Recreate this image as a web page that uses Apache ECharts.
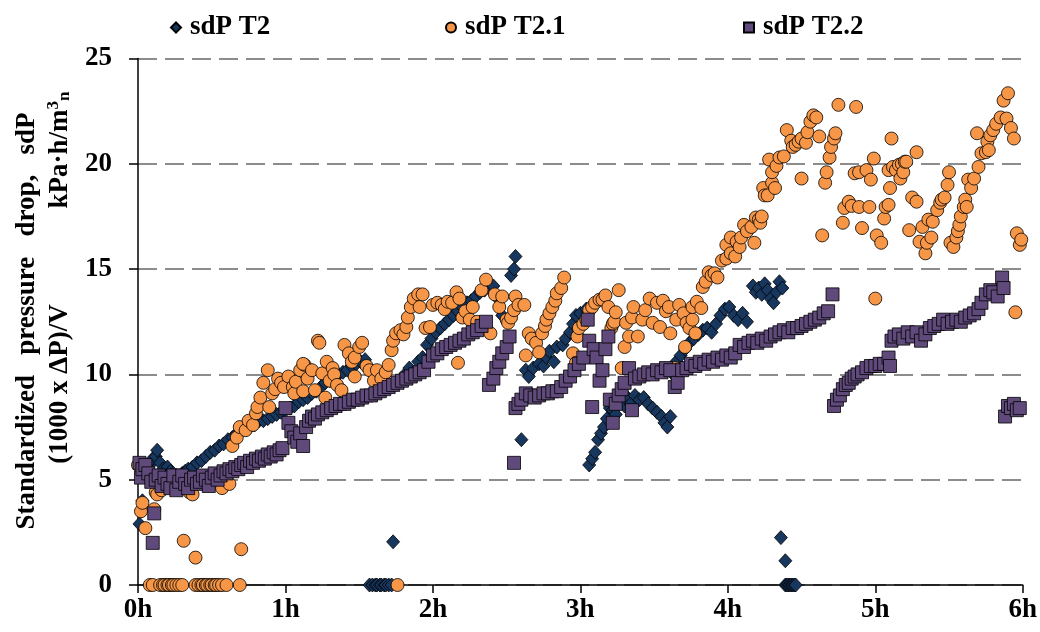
<!DOCTYPE html>
<html><head><meta charset="utf-8">
<script src="https://cdn.jsdelivr.net/npm/echarts@6/dist/echarts.min.js"></script>
<style>html,body{margin:0;padding:0;background:#fff}#c{width:1040px;height:632px}</style>
</head><body><div id="c"></div>
<script>
const seriesNames = ['sdP T2', 'sdP T2.1', 'sdP T2.2'];
const xTickLabels = ['0h', '1h', '2h', '3h', '4h', '5h', '6h'];
const yTickValues = [0, 5, 10, 15, 20, 25];
const yTitleLine1 = 'Standardized   pressure   drop,   sdP';
const yTitleLine2a = '(1000 x ΔP)/V';
const yTitleLine2b = 'kPa·h/m';

// [time in hours, sdP]
const sdpT2 = [
[0.01,2.9],[0.03,4.0],[0.06,5.3],[0.08,5.7],[0.1,6.0],[0.12,6.1],[0.13,6.4],[0.15,5.8],[0.17,5.5],[0.2,5.6],[0.22,5.4],[0.24,5.3],[0.26,5.2],[0.28,5.1],[0.3,5.3],
[0.32,5.4],[0.34,5.5],[0.37,5.6],[0.4,5.8],[0.43,5.9],[0.46,6.1],[0.49,6.3],[0.52,6.4],[0.55,6.6],[0.58,6.7],[0.61,6.9],[0.64,7.0],[0.67,7.2],[0.7,7.3],[0.73,7.4],[0.76,7.5],[0.79,7.6],[0.82,7.8],[0.85,7.8],[0.88,7.9],[0.91,8.0],[0.94,8.1],[0.97,8.2],[1.0,8.3],[1.03,8.4],[1.06,8.5],[1.09,8.7],[1.12,8.8],[1.15,8.9],[1.18,9.1],[1.21,9.2],[1.24,9.4],[1.27,9.6],[1.3,9.7],[1.33,9.9],[1.36,10.0],[1.39,10.1],[1.42,10.2],[1.45,10.4],[1.48,10.5],[1.51,10.6],[1.54,10.7],
[1.57,0],[1.59,0],[1.61,0],[1.62,0],[1.64,0],[1.65,0],[1.67,0],[1.68,0],[1.7,0],[1.72,0],[1.73,2.05],
[1.81,10.0],[1.84,10.3],[1.87,10.1],[1.9,10.6],[1.93,10.8],[1.96,11.4],[1.99,11.7],[2.02,12.0],[2.05,12.2],[2.08,12.4],[2.11,12.6],[2.14,12.8],[2.17,13.0],[2.2,13.2],[2.23,13.4],[2.26,13.5],[2.29,13.7],[2.32,13.9],[2.35,14.0],[2.38,14.1],[2.41,14.2],[2.44,13.6],[2.47,12.8],[2.53,14.7],[2.55,15.0],[2.56,15.6],[2.6,6.9],
[2.63,10.2],[2.65,9.9],[2.68,10.3],[2.72,10.5],[2.75,10.4],[2.77,10.8],[2.79,11.1],[2.82,10.6],[2.84,11.3],[2.88,11.4],[2.9,11.7],[2.93,12.0],[2.95,12.4],[2.97,12.8],[3.0,12.9],[3.04,13.1],
[3.06,5.7],[3.08,6.0],[3.1,6.3],[3.12,6.9],[3.14,7.2],[3.16,7.5],[3.18,7.9],[3.2,8.4],[3.22,8.3],[3.24,8.1],[3.26,8.6],[3.28,8.8],[3.3,8.5],[3.32,8.9],[3.34,8.6],[3.37,9.0],[3.4,8.8],[3.43,8.9],[3.46,8.6],[3.49,8.4],[3.52,8.2],[3.55,8.0],[3.57,7.7],[3.59,7.5],[3.61,8.0],
[3.63,10.0],[3.65,10.6],[3.68,10.9],[3.71,11.2],[3.74,11.5],[3.77,11.7],[3.8,11.9],[3.83,12.1],[3.86,12.2],[3.89,12.0],[3.92,12.4],[3.95,12.8],[3.98,13.1],[4.01,13.2],[4.04,12.8],[4.07,12.6],[4.1,12.9],[4.13,12.5],
[4.17,14.2],[4.19,13.9],[4.21,14.1],[4.23,13.8],[4.25,14.3],[4.27,14.0],[4.29,13.6],[4.31,13.4],[4.33,13.9],[4.35,14.4],[4.37,14.1],[4.36,2.25],[4.39,1.15],[4.39,0],[4.4,0],[4.41,0],[4.42,0],[4.43,0],[4.44,0],[4.45,0],[4.46,0]
];

const sdpT21 = [
[0.0,5.7],[0.02,3.5],[0.03,3.9],[0.05,2.7],[0.08,0],[0.1,0],[0.11,3.6],[0.12,4.4],[0.13,4.3],[0.15,0],[0.16,4.5],[0.17,0],[0.18,0],[0.2,0],[0.21,0],[0.23,0],[0.24,0],[0.26,0],[0.28,0],[0.3,0],[0.31,2.1],[0.35,4.4],[0.37,4.3],[0.39,1.3],[0.39,0],[0.41,0],[0.43,0],[0.44,0],[0.46,0],[0.47,0],[0.49,0],[0.5,0],[0.52,0],[0.53,0],[0.55,0],[0.57,0],[0.6,0],[0.57,4.6],[0.62,4.8],[0.64,6.6],[0.67,7.0],[0.69,0],[0.7,1.7],
[0.69,7.5],[0.73,7.35],[0.75,7.8],[0.78,7.6],[0.8,8.15],[0.81,8.45],[0.83,8.9],[0.85,9.6],[0.88,10.2],[0.89,8.45],[0.91,9.1],[0.93,9.3],[0.95,9.8],[0.97,9.6],[0.99,9.4],[1.02,9.9],[1.05,9.4],[1.06,9.1],[1.07,9.65],[1.1,10.2],[1.12,9.2],[1.13,10.45],[1.12,10.5],[1.15,9.8],[1.18,10.2],[1.2,9.25],[1.22,11.6],[1.23,11.5],[1.25,10.05],[1.27,8.9],[1.28,10.6],[1.3,9.7],[1.32,10.3],[1.33,10.0],[1.35,9.5],[1.38,9.25],[1.4,11.4],[1.43,11.0],[1.45,10.6],[1.47,10.8],[1.47,9.9],[1.5,11.3],[1.52,11.5],[1.55,10.4],[1.57,10.2],[1.6,9.7],[1.62,10.2],[1.65,9.8],[1.68,10.1],[1.7,10.45],[1.72,11.15],[1.73,11.6],[1.75,11.95],[1.76,0],
[1.78,12.1],[1.8,11.9],[1.82,12.25],[1.83,12.7],[1.85,13.2],[1.87,13.6],[1.9,13.8],[1.91,13.2],[1.93,13.8],[1.95,12.2],[1.98,12.25],[2.0,13.3],[2.03,13.4],[2.06,13.3],[2.08,13.1],[2.1,13.45],[2.13,13.4],[2.16,13.9],[2.17,10.55],[2.18,13.6],[2.2,12.7],[2.22,13.0],[2.25,12.6],[2.27,13.2],[2.3,12.5],[2.33,14.0],[2.36,14.5],[2.39,11.95],[2.42,13.8],[2.45,13.2],[2.47,13.7],[2.5,12.6],[2.51,12.45],[2.53,12.7],[2.55,13.05],[2.56,13.7],[2.58,13.3],[2.62,13.3],
[2.63,10.9],[2.65,11.95],[2.67,11.7],[2.7,11.5],[2.72,11.05],[2.74,11.95],[2.76,12.3],[2.77,12.6],[2.79,12.9],[2.81,13.2],[2.83,13.5],[2.84,13.85],[2.87,14.1],[2.89,14.6],[2.95,11.0],[2.97,10.55],[2.98,11.8],[2.99,12.2],[3.02,12.4],[3.04,12.6],[3.06,13.05],[3.08,13.2],[3.1,13.4],[3.13,13.55],[3.15,13.55],[3.17,13.75],[3.19,13.2],[3.21,12.2],[3.22,12.4],[3.23,12.5],[3.24,12.95],[3.26,14.0],
[3.28,10.3],[3.3,11.3],[3.31,12.45],[3.33,11.8],[3.35,12.7],[3.36,13.2],[3.39,11.8],[3.42,12.6],[3.44,13.05],[3.47,13.6],[3.49,12.45],[3.52,13.4],[3.54,12.25],[3.56,13.5],[3.58,13.0],[3.6,13.2],[3.61,11.95],[3.64,10.3],[3.65,12.6],[3.67,13.3],[3.7,12.9],[3.71,11.3],[3.72,12.45],[3.74,12.2],[3.76,12.6],[3.76,13.2],[3.78,11.95],[3.79,13.45],[3.82,13.15],
[3.83,14.15],[3.85,14.4],[3.87,14.85],[3.89,14.7],[3.91,14.8],[3.93,14.6],[3.96,15.4],[3.99,15.5],[3.99,16.15],[4.02,15.75],[4.02,16.5],[4.05,15.6],[4.06,16.3],[4.08,16.05],[4.09,16.5],[4.11,17.1],[4.13,16.8],[4.16,17.0],[4.18,16.25],[4.19,17.45],[4.21,17.35],[4.22,17.2],[4.23,17.5],[4.24,18.85],[4.25,18.5],[4.27,18.5],[4.28,20.2],[4.3,19.1],[4.3,19.6],[4.32,18.85],[4.33,19.9],[4.35,20.3],[4.38,20.35],[4.4,21.6],[4.43,21.1],[4.44,20.8],[4.46,20.9],[4.48,21.05],[4.5,21.2],[4.5,19.3],[4.53,21.0],[4.54,21.5],[4.56,22.0],[4.58,22.3],[4.6,22.2],[4.62,21.3],
[4.64,16.6],[4.66,19.1],[4.67,19.6],[4.69,20.3],[4.7,20.8],[4.72,21.2],[4.73,21.45],[4.75,22.8],[4.78,17.2],[4.79,17.9],[4.82,18.2],[4.84,18.0],[4.86,19.55],[4.87,22.7],[4.89,19.6],[4.89,17.95],[4.91,16.95],[4.94,19.7],[4.96,17.95],[4.97,19.25],[4.99,20.25],[5.0,13.6],[5.01,16.6],[5.04,16.25],[5.06,17.4],[5.07,17.95],[5.09,18.05],[5.1,18.85],[5.09,19.7],[5.11,21.2],[5.12,19.85],[5.14,19.7],[5.16,19.95],[5.17,19.3],[5.18,20.0],[5.19,19.6],[5.2,20.1],[5.21,20.1],
[5.23,16.85],[5.25,18.4],[5.28,18.2],[5.28,20.55],[5.3,16.3],[5.32,17.0],[5.34,15.75],[5.35,16.25],[5.36,17.35],[5.38,16.5],[5.39,17.25],[5.42,17.8],[5.44,18.15],[5.45,18.3],[5.47,18.4],[5.49,19.0],[5.5,19.6],[5.51,16.25],[5.53,16.05],[5.55,16.5],[5.56,16.8],[5.57,17.1],[5.58,17.5],[5.6,17.95],[5.61,18.3],[5.62,17.95],[5.63,19.25],[5.65,18.85],[5.67,19.3],[5.69,21.45],[5.7,19.85],[5.72,20.5],[5.75,20.55],[5.76,21.05],[5.77,20.65],[5.78,21.35],[5.8,21.6],[5.82,21.9],[5.85,22.2],[5.87,23.0],[5.89,22.15],[5.9,23.35],[5.92,21.7],[5.94,21.2],[5.95,12.95],[5.96,16.7],[5.98,16.15],[5.99,16.4]
];

const sdpT22 = [
[0.01,5.8],[0.02,5.1],[0.03,5.5],[0.05,5.7],[0.07,5.3],[0.09,4.9],[0.1,2.0],[0.11,3.4],[0.12,5.0],[0.14,5.2],[0.16,4.7],[0.18,5.1],[0.2,4.8],[0.22,4.6],[0.24,5.2],[0.26,4.5],[0.28,4.9],[0.3,5.2],[0.32,4.8],[0.34,4.6],[0.36,5.0],[0.38,5.1],[0.4,4.8],[0.42,4.9],[0.44,5.2],[0.46,5.0],[0.48,4.7],[0.5,5.1],[0.52,5.3],[0.54,5.0],[0.56,5.2],[0.58,5.4],[0.6,5.3],[0.62,5.5],[0.64,5.4],[0.66,5.6],[0.68,5.5],[0.7,5.7],[0.72,5.8],[0.74,5.6],[0.76,5.9],[0.78,5.8],[0.8,6.0],[0.82,5.9],[0.84,6.1],[0.86,6.0],[0.88,6.2],[0.9,6.1],[0.92,6.3],[0.94,6.2],[0.96,6.4],[0.98,6.5],
[1.0,8.4],[1.02,7.7],[1.04,7.3],[1.06,7.0],[1.08,6.8],[1.1,7.2],[1.12,6.6],[1.14,7.5],[1.16,7.8],[1.18,8.0],[1.2,7.9],[1.22,8.1],[1.25,8.2],[1.28,8.3],[1.31,8.4],[1.34,8.5],[1.37,8.6],[1.4,8.6],[1.43,8.7],[1.46,8.8],[1.49,8.8],[1.52,8.9],[1.55,9.0],[1.58,9.0],[1.61,9.1],[1.64,9.2],[1.67,9.3],[1.7,9.4],[1.73,9.5],[1.76,9.6],[1.79,9.7],[1.82,9.8],[1.85,9.9],[1.88,10.0],[1.91,10.1],[1.94,10.2],[1.97,10.6],[2.0,10.9],[2.03,11.0],[2.06,11.2],[2.09,11.3],[2.12,11.4],[2.15,11.5],[2.18,11.6],[2.21,11.7],[2.24,11.9],[2.27,12.0],[2.3,12.1],[2.33,12.3],[2.36,12.5],
[2.38,9.5],[2.41,9.8],[2.43,10.3],[2.45,10.6],[2.47,11.0],[2.5,11.3],[2.52,11.8],[2.55,5.8],[2.56,8.4],[2.58,8.6],[2.6,8.8],[2.63,9.1],[2.66,9.0],[2.69,8.9],[2.72,9.0],[2.75,9.1],[2.78,9.1],[2.81,9.2],[2.84,9.2],[2.87,9.4],[2.9,9.7],[2.93,9.9],[2.96,10.2],[2.99,10.5],[3.02,10.8],
[3.05,12.6],[3.06,11.6],[3.08,8.45],[3.09,11.2],[3.11,10.8],[3.13,9.7],[3.15,10.2],[3.17,11.2],[3.19,11.8],[3.2,8.8],[3.22,7.7],[3.24,8.6],[3.26,9.0],[3.28,9.3],[3.3,9.6],[3.33,10.3],[3.35,8.3],[3.37,9.8],[3.4,9.9],[3.43,10.0],[3.46,10.1],[3.49,10.0],[3.52,10.2],[3.55,10.1],[3.58,10.3],[3.61,10.2],[3.64,9.4],[3.66,9.6],[3.69,10.2],[3.72,10.3],[3.75,10.5],[3.78,10.4],[3.81,10.6],[3.84,10.5],[3.87,10.7],[3.9,10.6],[3.93,10.8],[3.96,10.7],[3.99,10.9],[4.02,10.8],[4.05,11.0],[4.08,11.4],[4.11,11.3],[4.14,11.5],[4.17,11.6],[4.2,11.5],[4.23,11.7],[4.26,11.6],[4.29,11.8],[4.32,11.9],[4.35,12.0],[4.38,12.1],[4.41,12.0],[4.44,12.2],[4.47,12.2],[4.5,12.3],[4.53,12.4],[4.56,12.5],[4.59,12.6],[4.62,12.7],[4.65,12.9],[4.68,13.0],[4.71,13.8],
[4.72,8.5],[4.74,8.8],[4.76,9.0],[4.78,9.3],[4.8,9.5],[4.82,9.6],[4.84,9.8],[4.86,9.9],[4.88,10.0],[4.91,10.1],[4.94,10.3],[4.97,10.4],[5.0,10.4],[5.03,10.5],[5.06,10.5],[5.09,10.8],[5.1,10.4],[5.11,11.6],[5.13,11.8],[5.16,11.9],[5.19,11.7],[5.22,12.0],[5.25,11.8],[5.28,12.0],[5.31,11.6],[5.34,11.9],[5.37,12.2],[5.4,12.3],[5.43,12.4],[5.46,12.6],[5.49,12.4],[5.52,12.5],[5.55,12.6],[5.58,12.5],[5.61,12.7],[5.64,12.8],[5.67,12.9],[5.7,13.1],[5.72,13.4],[5.75,13.8],[5.78,14.0],[5.8,13.9],[5.83,13.7],[5.86,14.6],[5.87,14.1],
[5.88,8.0],[5.9,8.5],[5.92,8.4],[5.94,8.6],[5.96,8.3],[5.98,8.4]
];

const FONT = 'Liberation Serif';
const chart = echarts.init(document.getElementById('c'), null, {renderer: 'canvas'});

function legendAt(name, left) {
  return {
    data: [name], left: left, top: 14, padding: 0,
    itemWidth: 10, itemHeight: 10, selectedMode: false,
    textStyle: {fontFamily: FONT, fontWeight: 'bold', fontSize: 27, color: '#000', padding: [0, 0, 0, 4]}
  };
}

chart.setOption({
  animation: false,
  backgroundColor: '#fff',
  legend: [legendAt(seriesNames[0], 170), legendAt(seriesNames[1], 445), legendAt(seriesNames[2], 743)],
  grid: {left: 138, right: 16, top: 58.5, bottom: 47, containLabel: false},
  xAxis: {
    type: 'value', min: 0, max: 6, interval: 1,
    axisLine: {show: true, lineStyle: {color: '#000', width: 1.5}},
    axisTick: {show: true, length: 8, lineStyle: {color: '#000', width: 1.5}},
    axisLabel: {fontFamily: FONT, fontWeight: 'bold', fontSize: 27, color: '#000', margin: 12,
      formatter: v => xTickLabels[Math.round(v)]},
    splitLine: {show: false}
  },
  yAxis: {
    type: 'value', min: yTickValues[0], max: yTickValues[yTickValues.length - 1], interval: 5,
    axisLine: {show: true, lineStyle: {color: '#000', width: 1.5}},
    axisTick: {show: true, length: 9, lineStyle: {color: '#000', width: 1.5}},
    axisLabel: {fontFamily: FONT, fontWeight: 'bold', fontSize: 27, color: '#000', margin: 26},
    splitLine: {show: true, lineStyle: {color: '#8c8c8c', width: 2.2, type: [19, 8]}}
  },
  graphic: [
    {type: 'text', x: 27, y: 321, rotation: Math.PI / 2,
      style: {text: yTitleLine1, fontFamily: FONT, fontWeight: 'bold', fontSize: 27, fill: '#000', align: 'center', verticalAlign: 'middle'}},
    {type: 'text', x: 60, y: 384, rotation: Math.PI / 2,
      style: {text: yTitleLine2a, fontFamily: FONT, fontWeight: 'bold', fontSize: 27, fill: '#000', align: 'center', verticalAlign: 'middle'}},
    {type: 'text', x: 60, y: 150, rotation: Math.PI / 2,
      style: {text: yTitleLine2b + '{sup|3}{sub|n}', fontFamily: FONT, fontWeight: 'bold', fontSize: 27, fill: '#000', align: 'center', verticalAlign: 'middle',
        rich: {
          sup: {fontFamily: FONT, fontWeight: 'bold', fontSize: 17, fill: '#000', padding: [0, 0, 12, 0]},
          sub: {fontFamily: FONT, fontWeight: 'bold', fontSize: 17, fill: '#000', padding: [10, 0, 0, 0]}
        }}}
  ],
  series: [
    {name: seriesNames[0], type: 'scatter', data: sdpT2, symbol: 'diamond', symbolSize: [13, 14],
      itemStyle: {color: '#17375E', borderColor: '#000', borderWidth: 0.8, opacity: 1}},
    {name: seriesNames[1], type: 'scatter', data: sdpT21, symbol: 'circle', symbolSize: 13,
      itemStyle: {color: '#F79646', borderColor: '#000', borderWidth: 0.8, opacity: 1}},
    {name: seriesNames[2], type: 'scatter', data: sdpT22, symbol: 'rect', symbolSize: 13,
      itemStyle: {color: '#604A7B', borderColor: '#000', borderWidth: 0.8, opacity: 1}}
  ]
});
</script>
</body></html>
